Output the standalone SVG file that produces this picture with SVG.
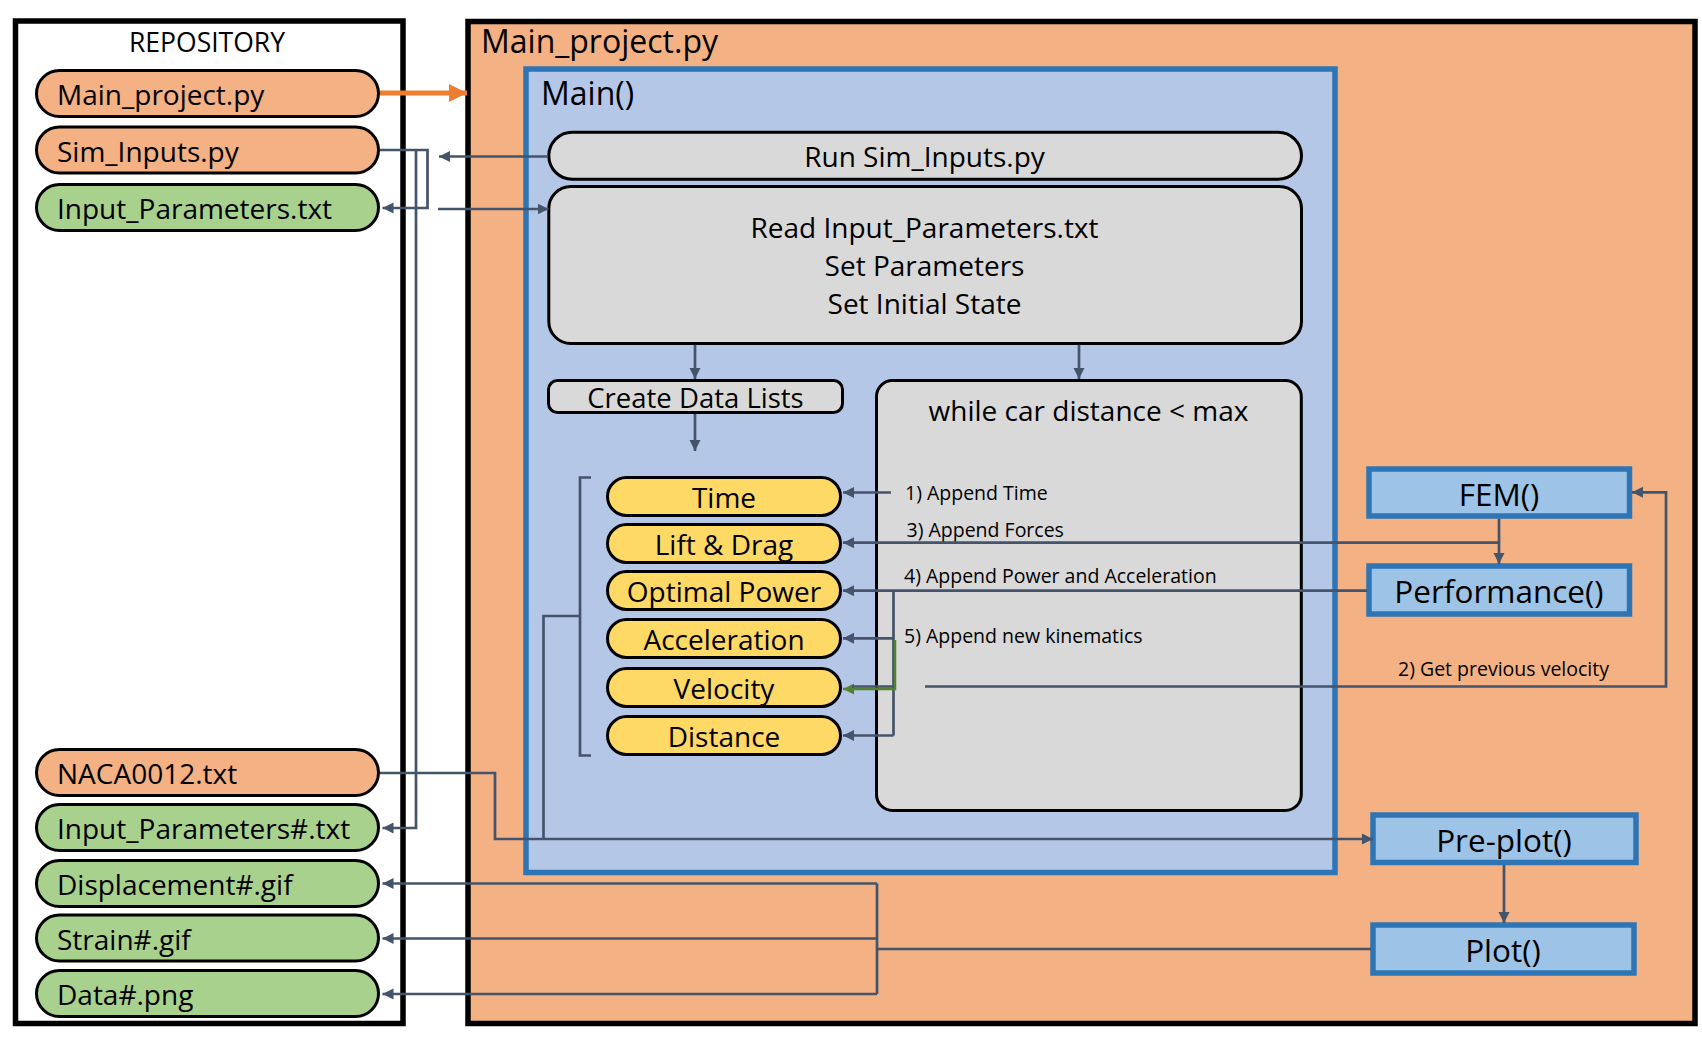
<svg xmlns="http://www.w3.org/2000/svg" width="1702" height="1044" viewBox="0 0 1702 1044">
<style>
text{font-family:"Open Sans","Noto Sans","DejaVu Sans",sans-serif;fill:#000}
.t28{font-size:28px}
.t32{font-size:32px}
.tb{font-size:31.5px;text-anchor:middle}
.ts{font-size:19.5px}
.mid{text-anchor:middle}
.pill-o{fill:#F4B183;stroke:#000;stroke-width:3}
.pill-g{fill:#A9D18E;stroke:#000;stroke-width:3}
.pill-y{fill:#FFD966;stroke:#000;stroke-width:3}
.gray{fill:#D9D9D9;stroke:#000;stroke-width:3}
.fn{fill:#9DC3E6;stroke:#2E75B6;stroke-width:5.5}
.conn{fill:none;stroke:#44546A;stroke-width:2.7}
.ca{fill:none;stroke:#44546A;stroke-width:2.7;marker-end:url(#ah)}
</style>
<defs>
<marker id="ah" markerUnits="userSpaceOnUse" markerWidth="12" markerHeight="12" viewBox="0 0 12 12" refX="11" refY="6" orient="auto">
<path d="M0,0.5 L11,6 L0,11.5 z" fill="#44546A"/>
</marker>
<marker id="ahg" markerUnits="userSpaceOnUse" markerWidth="12" markerHeight="12" viewBox="0 0 12 12" refX="11" refY="6" orient="auto">
<path d="M0,0.5 L11,6 L0,11.5 z" fill="#548235"/>
</marker>
<marker id="aho" markerUnits="userSpaceOnUse" markerWidth="20" markerHeight="20" viewBox="0 0 20 20" refX="18" refY="10" orient="auto">
<path d="M0,1 L18,10 L0,19 z" fill="#ED7D31"/>
</marker>
</defs>

<g id="repository">
<rect x="15.5" y="21" width="387.5" height="1002.5" fill="#FFFFFF" stroke="#000" stroke-width="5.5"/>
<text x="207" y="51.5" class="mid" style="font-size:26.5px">REPOSITORY</text>
</g>

<g id="main-project">
<rect x="468" y="21.5" width="1227" height="1002" fill="#F4B183" stroke="#000" stroke-width="5.5"/>
<text x="481" y="52.5" class="t32">Main_project.py</text>
</g>

<g id="main-func">
<rect x="526" y="69" width="809" height="803.5" fill="#B4C7E7" stroke="#2E75B6" stroke-width="5.5"/>
<text x="541" y="105" class="t32">Main()</text>
</g>

<g id="repo-main-project"><rect class="pill-o" x="36.5" y="70.5" width="342" height="46" rx="23"/><text x="57" y="105" class="t28">Main_project.py</text></g>
<g id="repo-sim-inputs"><rect class="pill-o" x="36.5" y="127" width="342" height="46" rx="23"/><text x="57" y="161.5" class="t28">Sim_Inputs.py</text></g>
<g id="repo-input-parameters"><rect class="pill-g" x="36.5" y="184.5" width="342" height="46" rx="23"/><text x="57" y="219" class="t28">Input_Parameters.txt</text></g>
<g id="repo-naca"><rect class="pill-o" x="36.5" y="749.5" width="342" height="46" rx="23"/><text x="57" y="784" class="t28">NACA0012.txt</text></g>
<g id="repo-input-parameters-n"><rect class="pill-g" x="36.5" y="804.5" width="342" height="46" rx="23"/><text x="57" y="839" class="t28">Input_Parameters#.txt</text></g>
<g id="repo-displacement"><rect class="pill-g" x="36.5" y="860.5" width="342" height="46" rx="23"/><text x="57" y="895" class="t28">Displacement#.gif</text></g>
<g id="repo-strain"><rect class="pill-g" x="36.5" y="915" width="342" height="46" rx="23"/><text x="57" y="949.5" class="t28">Strain#.gif</text></g>
<g id="repo-data"><rect class="pill-g" x="36.5" y="970.5" width="342" height="46" rx="23"/><text x="57" y="1005" class="t28">Data#.png</text></g>

<g id="run-sim-inputs"><rect class="gray" x="548.8" y="132.2" width="752.7" height="47" rx="23.5"/><text x="924.5" y="167" class="t28 mid">Run Sim_Inputs.py</text></g>
<g id="read-input"><rect class="gray" x="548.8" y="186.5" width="752.7" height="157" rx="22"/>
<text x="924.5" y="237.5" class="t28 mid">Read Input_Parameters.txt</text>
<text x="924.5" y="275.5" class="t28 mid">Set Parameters</text>
<text x="924.5" y="314" class="t28 mid">Set Initial State</text></g>
<g id="create-data-lists"><rect class="gray" x="548.5" y="380.5" width="294" height="32" rx="9"/><text x="695.5" y="407.5" class="mid" style="font-size:27.5px">Create Data Lists</text></g>
<g id="while-loop"><rect class="gray" x="876.5" y="380.5" width="424.8" height="430" rx="16"/><text x="1088.5" y="421" class="t28 mid">while car distance &lt; max</text></g>

<g id="list-time"><rect class="pill-y" x="607.5" y="477.5" width="233" height="38" rx="19"/><text x="724" y="507.5" class="t28 mid">Time</text></g>
<g id="list-lift-drag"><rect class="pill-y" x="607.5" y="524.5" width="233" height="38" rx="19"/><text x="724" y="554.5" class="t28 mid">Lift &amp; Drag</text></g>
<g id="list-optimal-power"><rect class="pill-y" x="607.5" y="571.5" width="233" height="38" rx="19"/><text x="724" y="601.5" class="t28 mid">Optimal Power</text></g>
<g id="list-acceleration"><rect class="pill-y" x="607.5" y="619.5" width="233" height="38" rx="19"/><text x="724" y="649.5" class="t28 mid">Acceleration</text></g>
<g id="list-velocity"><rect class="pill-y" x="607.5" y="668.5" width="233" height="38" rx="19"/><text x="724" y="698.5" class="t28 mid">Velocity</text></g>
<g id="list-distance"><rect class="pill-y" x="607.5" y="716.5" width="233" height="38" rx="19"/><text x="724" y="746.5" class="t28 mid">Distance</text></g>

<g id="fem"><rect class="fn" x="1369" y="469" width="260.5" height="47"/><text x="1499" y="506" class="tb">FEM()</text></g>
<g id="performance"><rect class="fn" x="1369" y="566" width="260.5" height="48"/><text x="1499" y="603" class="tb">Performance()</text></g>
<g id="pre-plot"><rect class="fn" x="1373" y="815" width="263" height="47.5"/><text x="1504" y="851.7" class="tb">Pre-plot()</text></g>
<g id="plot"><rect class="fn" x="1373" y="925" width="261" height="48"/><text x="1503" y="961.7" class="tb">Plot()</text></g>

<g id="labels">
<text x="905" y="500" class="ts">1) Append Time</text>
<text x="906.5" y="536.7" class="ts">3) Append Forces</text>
<text x="904" y="582.7" class="ts">4) Append Power and Acceleration</text>
<text x="904" y="643.4" class="ts">5) Append new kinematics</text>
<text x="1398" y="675.7" class="ts">2) Get previous velocity</text>
</g>

<g id="connectors">
<path d="M380,93 H467" fill="none" stroke="#ED7D31" stroke-width="5" marker-end="url(#aho)"/>
<path class="ca" d="M380,150 H427.5 V208 H382.5"/>
<path class="ca" d="M416,150 V828 H382.5"/>
<path class="ca" d="M548,156.5 H439"/>
<path class="ca" d="M438,209 H548.5"/>
<path class="ca" d="M695,345 V379"/>
<path class="ca" d="M1079,345 V379"/>
<path class="ca" d="M695,414 V451"/>
<path class="ca" d="M891,492.5 H843"/>
<path class="ca" d="M1499,542.7 H843"/>
<path class="ca" d="M1499,518.5 V564"/>
<path class="ca" d="M1367,590.7 H843"/>
<path class="conn" d="M893.5,590.7 V735.5"/>
<path class="ca" d="M893.5,638.3 H843"/>
<path class="ca" d="M893.5,735.5 H843"/>
<path d="M895,640 V689 H843" fill="none" stroke="#548235" stroke-width="2.5" marker-end="url(#ahg)"/>
<path class="conn" d="M893.5,686.5 H852"/>
<path class="ca" d="M925,686.5 H1666 V492.3 H1632"/>
<path class="ca" d="M380,773 H495 V839 H1373"/>
<path class="conn" d="M591,477.5 H580 V755.5 H591"/>
<path class="conn" d="M580,616 H543.5 V839"/>
<path class="ca" d="M1504,865 V923"/>
<path class="conn" d="M1371,949 H877"/>
<path class="conn" d="M877,883.5 V994"/>
<path class="ca" d="M877,883.5 H382.5"/>
<path class="ca" d="M877,938.5 H382.5"/>
<path class="ca" d="M877,994 H382.5"/>
</g>
</svg>
